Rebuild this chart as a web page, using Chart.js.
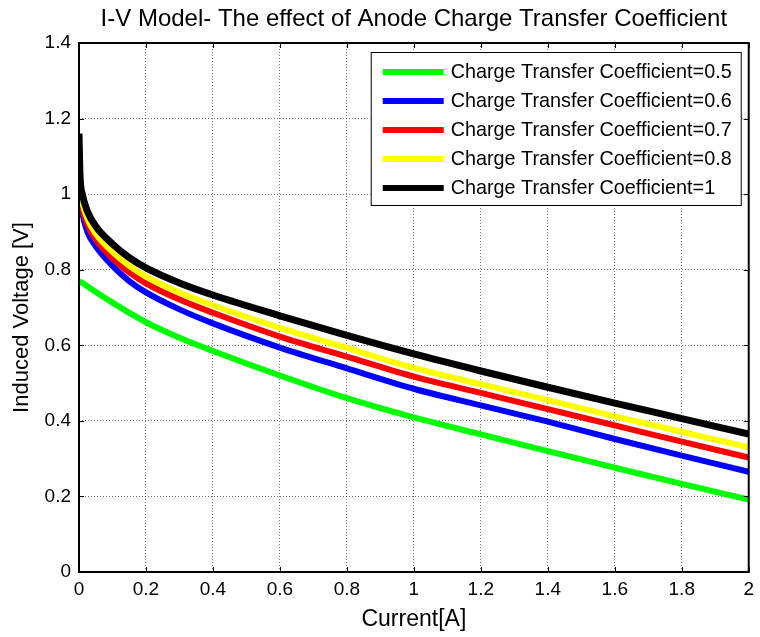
<!DOCTYPE html>
<html>
<head>
<meta charset="utf-8">
<script src="https://cdn.jsdelivr.net/npm/chart.js@4/dist/chart.umd.min.js"></script>
<style>
  html, body { margin: 0; padding: 0; background: #fff; }
  canvas { display: block; }
</style>
</head>
<body>
<canvas id="ivChart" width="760" height="637"></canvas>
<script>
// current samples [A]
var current = [0, 0.003, 0.01, 0.025, 0.05, 0.1, 0.15, 0.2, 0.3, 0.4, 0.6, 0.8, 1.0, 1.2, 1.4, 1.6, 1.8, 2.0];

// induced voltage [V], one list per coefficient
var v05 = [0.770, 0.768, 0.765, 0.756, 0.741, 0.713, 0.686, 0.661, 0.620, 0.585, 0.520, 0.460, 0.409, 0.364, 0.320, 0.276, 0.233, 0.192];
var v06 = [1.080, 1.000, 0.950, 0.900, 0.862, 0.810, 0.770, 0.740, 0.695, 0.658, 0.594, 0.539, 0.485, 0.441, 0.398, 0.352, 0.308, 0.265];
var v07 = [1.100, 1.020, 0.965, 0.920, 0.880, 0.830, 0.793, 0.764, 0.721, 0.686, 0.623, 0.570, 0.517, 0.474, 0.431, 0.388, 0.345, 0.303];
var v08 = [1.120, 1.030, 0.980, 0.935, 0.895, 0.847, 0.810, 0.782, 0.740, 0.706, 0.646, 0.593, 0.540, 0.497, 0.455, 0.412, 0.371, 0.330];
var v10 = [1.160, 1.050, 1.000, 0.955, 0.915, 0.868, 0.832, 0.805, 0.765, 0.733, 0.678, 0.626, 0.577, 0.532, 0.489, 0.447, 0.406, 0.365];

var coefficients = ["0.5", "0.6", "0.7", "0.8", "1"];
var seriesColors = ["#00ff00", "#0000ff", "#ff0000", "#ffff00", "#000000"];

var xTicks = [0, 0.2, 0.4, 0.6, 0.8, 1, 1.2, 1.4, 1.6, 1.8, 2];
var xTickLabels = ["0", "0.2", "0.4", "0.6", "0.8", "1", "1.2", "1.4", "1.6", "1.8", "2"];
var yTicks = [0, 0.2, 0.4, 0.6, 0.8, 1, 1.2, 1.4];
var yTickLabels = ["0", "0.2", "0.4", "0.6", "0.8", "1", "1.2", "1.4"];

var yTitle = "Induced Voltage [V]";

var FONT = "Liberation Sans, Arial, Helvetica, sans-serif";

function toPoints(ys){
    return current.map(function(x, i){ return {x: x, y: ys[i]} })
}

var allSeries = [v05, v06, v07, v08, v10];
var datasets = allSeries.map(function(ys, i){
    return {
        label: "Charge Transfer Coefficient=" + coefficients[i],
        data: toPoints(ys),
        borderColor: seriesColors[i],
        backgroundColor: seriesColors[i],
        borderWidth: i == 4 ? 7 : 6,
        pointRadius: 0,
        cubicInterpolationMode: "monotone",
        clip: 0,
        order: allSeries.length - 1 - i   // black drawn last (on top), like matlab
    }
})

// box around the axes + inward ticks on all 4 sides + y label
var matlabAxes = {
    id: "matlabAxes",
    afterDatasetsDraw: function(chart){
        var ctx = chart.ctx, a = chart.chartArea;
        var xs = chart.scales.x, ys = chart.scales.y;
        var len = 5;
        ctx.save();
        ctx.strokeStyle = "#000";
        ctx.lineWidth = 1;
        ctx.beginPath();
        xTicks.forEach(function(v){
            var px = Math.round(xs.getPixelForValue(v)) + 0.5;
            ctx.moveTo(px, a.bottom); ctx.lineTo(px, a.bottom - len);
            ctx.moveTo(px, a.top); ctx.lineTo(px, a.top + len);
        })
        yTicks.forEach(function(v){
            var py = Math.round(ys.getPixelForValue(v)) + 0.5;
            ctx.moveTo(a.left, py); ctx.lineTo(a.left + len, py);
            ctx.moveTo(a.right, py); ctx.lineTo(a.right - len, py);
        })
        ctx.stroke();
        ctx.lineWidth = 2;
        ctx.strokeRect(a.left, a.top, a.right - a.left, a.bottom - a.top);

        // y axis title, matlab puts it a bit below the middle
        ctx.translate(22, (a.top + a.bottom) / 2 + 10);
        ctx.rotate(-Math.PI / 2);
        ctx.font = "22px " + FONT;
        ctx.fillStyle = "#000";
        ctx.textAlign = "center";
        ctx.textBaseline = "middle";
        ctx.fillText(yTitle, 0, 0);
        ctx.restore();
    }
}

// legend box in the upper right corner of the axes
var boxLegend = {
    id: "boxLegend",
    afterDraw: function(chart){
        var ctx = chart.ctx, a = chart.chartArea;
        var ds = chart.data.datasets;
        var w = 370, rowH = 29;
        var h = ds.length * rowH + 8;
        var bx = a.right - 8 - w, by = a.top + 9;
        ctx.save();
        ctx.fillStyle = "#fff";
        ctx.fillRect(bx, by, w, h);
        ctx.strokeStyle = "#000";
        ctx.lineWidth = 1;
        ctx.strokeRect(bx + 0.5, by + 0.5, w, h);
        ctx.font = "19.8px " + FONT;
        ctx.textBaseline = "middle";
        ds.forEach(function(d, i){
            var cy = by + 20 + i * rowH;
            ctx.strokeStyle = d.borderColor;
            ctx.lineWidth = 6;
            ctx.beginPath();
            ctx.moveTo(bx + 12, cy);
            ctx.lineTo(bx + 73, cy);
            ctx.stroke();
            ctx.fillStyle = "#000";
            ctx.fillText(d.label, bx + 80, cy + 1);
        })
        ctx.restore();
    }
}

var gridOpts = {
    color: "rgba(0,0,0,0.55)",
    lineWidth: 1,
    drawTicks: false
}

var chart = new Chart(document.getElementById("ivChart").getContext("2d"), {
    type: "line",
    data: { datasets: datasets },
    options: {
        responsive: false,
        animation: false,
        layout: { padding: { left: 0, right: 10, top: 0, bottom: 0 } },
        plugins: {
            legend: { display: false },
            tooltip: { enabled: false },
            title: {
                display: true,
                fullSize: false,
                text: "I-V Model- The effect of Anode Charge Transfer Coefficient",
                color: "#000",
                font: { family: FONT, size: 24, weight: "normal" },
                padding: { top: 5, bottom: 9.2 }
            }
        },
        scales: {
            x: {
                type: "linear",
                min: 0, max: 2,
                afterBuildTicks: function(scale){
                    scale.ticks = xTicks.map(function(v){ return {value: v} })
                },
                afterFit: function(scale){ scale.height = 65 },
                ticks: {
                    color: "#000",
                    padding: 6,
                    maxRotation: 0,
                    font: { family: FONT, size: 19 },
                    callback: function(v, i){ return xTickLabels[i] }
                },
                grid: gridOpts,
                border: { display: false, dash: [1, 2] },
                title: {
                    display: true,
                    text: "Current[A]",
                    color: "#000",
                    font: { family: FONT, size: 23 },
                    padding: { top: 0, bottom: 4 }
                }
            },
            y: {
                type: "linear",
                min: 0, max: 1.4,
                afterBuildTicks: function(scale){
                    scale.ticks = yTicks.map(function(v){ return {value: v} })
                },
                afterFit: function(scale){ scale.width = 79 },
                ticks: {
                    color: "#000",
                    padding: 8,
                    font: { family: FONT, size: 19 },
                    callback: function(v, i){ return yTickLabels[i] }
                },
                grid: gridOpts,
                border: { display: false, dash: [1, 2] },
                title: { display: false }
            }
        }
    },
    plugins: [matlabAxes, boxLegend]
})
</script>
</body>
</html>
